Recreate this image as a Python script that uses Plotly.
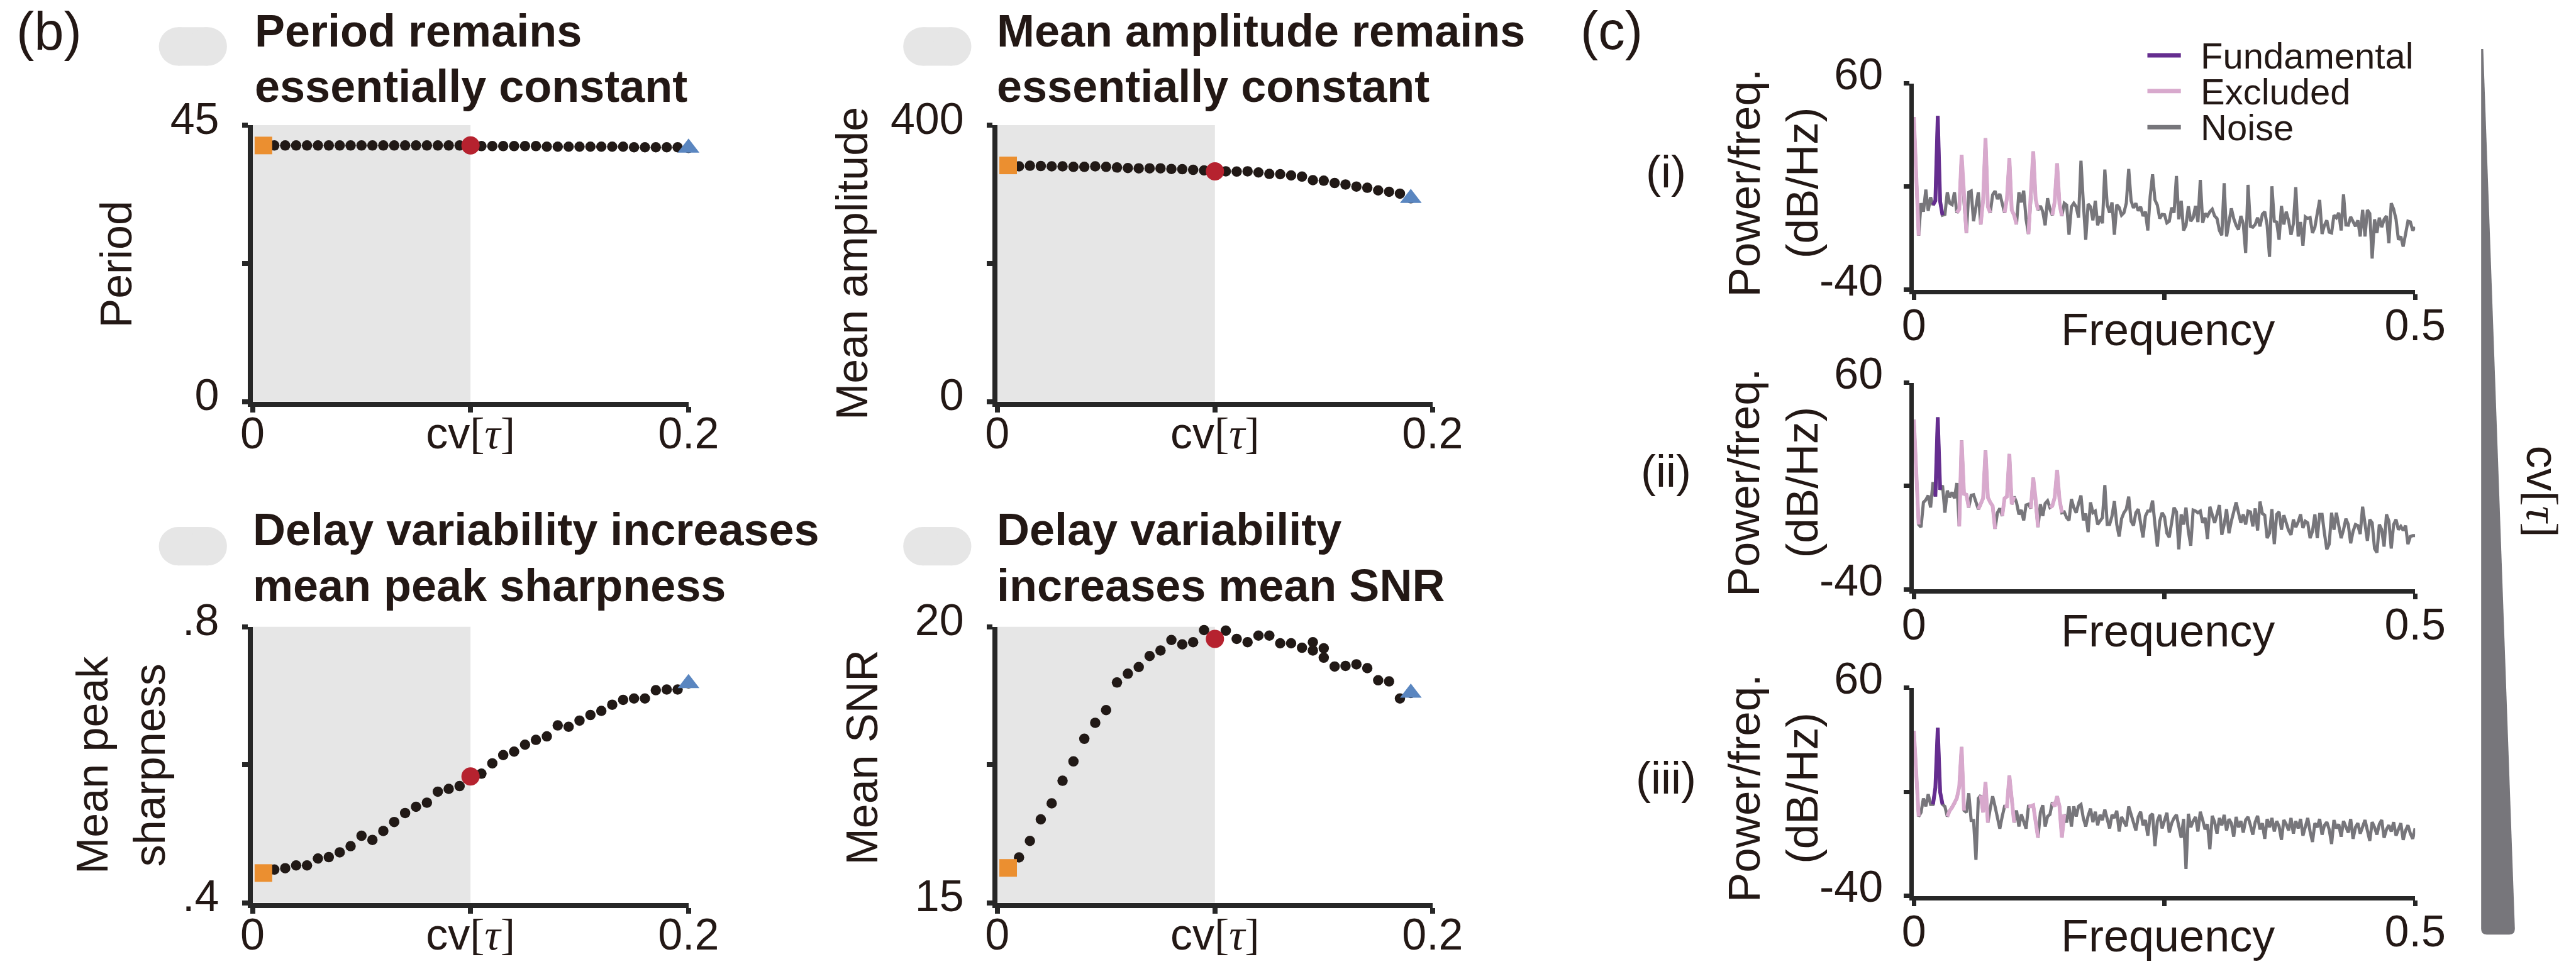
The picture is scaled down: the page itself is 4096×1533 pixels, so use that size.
import numpy as np
import plotly.graph_objects as go

W, H = 4096, 1533
SANS = "Liberation Sans, Arial, Helvetica, sans-serif"
INK = "#231815"
AXC = "#272727"
SHADE = "#E6E6E6"
C_DOT = "#211916"
C_SQ = "#EB8F30"
C_CIR = "#B6222F"
C_TRI = "#5A86C0"
C_NOISE = "#77767B"
C_EXCL = "#D8A9CD"
C_FUND = "#652D8F"

# ---------------- data: panel (b) ----------------
cv_40 = [0.005, 0.010, 0.015, 0.020, 0.025, 0.030, 0.035, 0.040, 0.045, 0.050,
         0.055, 0.060, 0.065, 0.070, 0.075, 0.080, 0.085, 0.090, 0.095, 0.100,
         0.105, 0.110, 0.115, 0.120, 0.125, 0.130, 0.135, 0.140, 0.145, 0.150,
         0.155, 0.160, 0.165, 0.170, 0.175, 0.180, 0.185, 0.190, 0.195, 0.200]
cv_38 = cv_40[:38]

period = [41.7, 41.7, 41.7, 41.7, 41.7, 41.7, 41.7, 41.7, 41.7, 41.7,
          41.7, 41.7, 41.7, 41.7, 41.7, 41.7, 41.7, 41.7, 41.7, 41.7,
          41.6, 41.6, 41.6, 41.6, 41.6, 41.6, 41.5, 41.5, 41.5, 41.5,
          41.5, 41.5, 41.5, 41.5, 41.4, 41.4, 41.4, 41.4, 41.4, 41.3]

amplitude = [341.8, 340.5, 341.3, 340.9, 340.5, 340.5, 339.7, 339.7, 340.5, 339.7,
             338.8, 338.0, 337.6, 337.6, 337.6, 336.7, 336.3, 335.4, 334.6, 333.3,
             333.3, 332.9, 333.3, 331.6, 329.5, 329.1, 327.3, 325.6, 320.5, 319.7,
             316.3, 314.2, 311.2, 309.5, 305.7, 303.6, 301.0, 294.2]

sharpness = [0.443, 0.448, 0.450, 0.454, 0.454, 0.464, 0.466, 0.473, 0.482, 0.497,
             0.491, 0.504, 0.517, 0.530, 0.539, 0.545, 0.561, 0.565, 0.569, 0.583,
             0.587, 0.602, 0.614, 0.619, 0.629, 0.636, 0.641, 0.657, 0.655, 0.664,
             0.672, 0.678, 0.687, 0.694, 0.696, 0.696, 0.708, 0.709, 0.709, 0.718]

snr_cv = [0.005, 0.010, 0.015, 0.020, 0.025, 0.030, 0.035, 0.040, 0.045, 0.050,
          0.055, 0.060, 0.065, 0.070, 0.075, 0.080, 0.085, 0.090, 0.095, 0.100,
          0.105, 0.110, 0.115, 0.120, 0.125, 0.130, 0.135, 0.140, 0.145, 0.145,
          0.150, 0.150, 0.155, 0.160, 0.165, 0.170, 0.175, 0.180, 0.185, 0.190]
snr = [15.63, 15.82, 16.12, 16.51, 16.80, 17.21, 17.56, 17.97, 18.26, 18.49,
       18.99, 19.15, 19.27, 19.47, 19.57, 19.76, 19.68, 19.72, 19.94, 19.78,
       19.93, 19.78, 19.72, 19.84, 19.84, 19.70, 19.70, 19.62, 19.72, 19.57,
       19.61, 19.44, 19.28, 19.29, 19.32, 19.25, 19.03, 19.01, 18.70, 18.80]

# ---------------- data: panel (c) spectra (dB/Hz), 0 .. 0.5 ----------------
spec_i = [43.7, 15.0, -13.8, 1.9, -2.2, 8.5, -1.8, 4.8, 1.0, 3.1,
          44.2, 2.7, -3.9, -3.5, 7.2, 1.9, 1.2, 7.2, -2.7, -1.0,
          25.4, 2.7, -12.5, 7.2, 7.8, -6.8, 0.2, 7.2, -8.4, 3.5,
          33.4, 0.2, -2.7, 6.0, 7.8, 3.9, 6.4, 1.9, -2.7, 4.3,
          23.7, -1.4, -3.9, -8.3, 7.2, 2.3, 8.0, -5.9, -13.0, 3.9,
          27.0, 3.9, -1.4, 0.6, -2.2, -8.8, 4.3, -1.0, -3.9, 2.7,
          21.2, 1.5, -4.3, 1.9, 1.0, -13.4, 0.2, 1.9, 0.2, -5.1,
          22.5, 1.9, -15.8, 1.5, 0.2, -6.4, 3.1, -8.8, -4.3, -7.8,
          18.2, 1.0, -2.7, 2.3, -13.4, 1.2, -0.2, -3.9, -2.7, 2.0,
          18.5, 3.1, -0.4, 1.9, -1.8, 0.2, -4.3, -2.2, -11.3, 5.2,
          15.9, 3.5, 1.0, -5.5, -3.5, -3.7, -7.6, -6.8, -0.2, -2.7,
          15.1, -5.9, 3.1, -11.3, -8.8, 0.4, -6.8, -5.1, 0.6, -7.2,
          13.2, -7.6, -3.1, -4.3, -2.2, -1.0, -4.3, -5.5, -11.3, -13.6,
          11.6, -14.2, -7.2, -0.6, -5.5, -8.8, -10.9, -4.3, -8.0, -22.2,
          10.8, -9.3, -9.7, -8.4, -5.1, -9.3, -3.5, -2.2, -8.8, -24.1,
          10.1, -6.8, -7.2, -15.8, 0.6, -8.4, -2.2, -6.4, -13.4, -8.0,
          9.7, -14.2, -7.2, -18.7, -4.7, -5.5, -5.1, -12.5, -9.7, -2.2,
          3.5, -13.0, -8.8, -6.4, -12.1, -12.5, -3.9, -5.1, -2.7, -11.3,
          6.2, -8.6, -8.7, -4.7, -6.8, -9.3, -6.4, -14.2, -1.3, -14.2,
          -1.4, -3.1, -24.9, -5.9, -12.5, -5.1, -9.7, -5.9, -4.3, -17.5,
          1.9, -1.0, -5.9, -15.8, -14.2, -19.1, -13.0, -6.8, -7.2, -11.3, -9.7]

spec_ii = [42.1, 14.0, -8.6, -9.9, 2.1, 3.3, 5.4, -0.4, 11.9, 4.9,
           43.3, 8.2, 10.3, -2.9, 7.8, 4.5, 7.0, 4.1, 11.5, -9.5,
           32.1, 6.2, 5.8, -0.4, 5.5, 5.8, 2.1, -1.2, 1.2, 4.1,
           27.2, 4.5, 2.1, 0.4, -10.7, -2.9, -0.8, -4.5, 4.1, 4.9,
           25.5, 1.2, 4.9, 2.1, -3.7, -1.6, -6.6, 0.8, 1.2, -0.8,
           14.0, 3.7, -9.9, 1.2, -4.5, 1.6, 2.9, -0.4, 0.4, 4.5,
           17.7, 3.7, -2.9, -2.5, -5.3, -6.6, 3.7, -0.4, -2.9, 1.6,
           5.4, -6.6, -3.3, -12.3, 2.1, -2.9, -2.1, -8.6, -7.0, -5.3,
           10.5, -8.6, -8.6, -4.5, 2.7, -8.6, -14.4, -5.8, -2.9, -1.2,
           4.9, -7.0, -9.1, -2.9, -1.2, -7.8, -14.8, -4.5, -2.1, -2.1,
           3.0, -8.6, -19.3, -7.0, -2.9, -4.9, -12.8, -14.8, -6.2, -0.4,
           -2.5, -20.6, -3.7, -8.6, -0.4, -11.9, -18.9, -1.6, -2.1, -2.9,
           -2.1, -7.8, -5.3, -15.6, 0.0, -4.5, -7.8, -3.7, 0.8, -13.6,
           -8.6, -1.2, -12.8, -7.0, -2.1, 2.1, -2.9, -7.8, -3.7, -8.6,
           -2.1, -2.5, -9.5, -0.8, -11.5, 2.5, -3.3, -4.1, -15.2, -12.8,
           -1.2, -18.1, -3.7, -2.5, -11.1, -4.1, -7.8, -11.5, -13.6, -6.2,
           -9.9, -7.4, -3.7, -10.3, -7.0, -7.8, -15.2, -11.9, -3.7, -15.2,
           -3.7, -3.7, -12.8, -20.6, -18.1, -2.9, -11.1, -2.9, -9.1, -15.2,
           -11.1, -5.8, -8.6, -17.7, -11.9, -8.6, -9.1, -13.2, 0.0, -7.8,
           -16.5, -6.2, -7.8, -20.2, -22.2, -8.6, -11.1, -19.3, -3.7, -7.0,
           -20.2, -8.6, -6.2, -11.1, -9.5, -11.5, -9.1, -18.1, -14.4, -14.0, -14.0]

spec_iii = [39.4, 18.0, -1.8, 0.2, 6.9, 3.1, 8.9, 4.0, 4.0, 12.0,
            40.8, 9.9, 4.0, 3.0, -1.8, 1.0, 2.5, 4.5, 7.0, 12.5,
            31.6, 1.1, 0.2, 9.4, -3.7, -3.7, -22.6, 6.9, 8.4, 0.2,
            14.7, -4.7, 2.1, 7.9, 3.1, -2.7, -7.6, -1.8, 3.1, 3.1,
            17.8, 6.9, -4.7, 1.1, -6.6, -0.8, -3.7, -7.6, 3.1, 3.1,
            3.6, -3.7, -11.9, 0.2, 3.6, -6.6, -1.8, -0.8, 5.0, 3.1,
            7.9, 3.1, -11.9, -0.8, -4.7, 3.1, -6.6, 3.1, -1.8, 3.1,
            4.0, -2.7, -6.6, -1.5, 2.0, -4.5, 0.5, -6.0, -1.0, -3.5,
            1.5, -3.0, -7.5, -1.0, -2.5, 1.0, -9.0, -2.0, -4.0, -6.5,
            3.0, -1.0, -5.0, -8.5, -2.0, 0.5, -6.0, -3.5, -11.0, -1.5,
            -0.5, -16.0, -4.0, -1.0, -7.5, -3.0, 0.0, -9.5, -5.0, -2.5,
            -1.0, -6.5, -12.0, -3.0, -27.0, -0.5, -7.0, -4.0, -2.0, -9.0,
            0.5, -3.5, -8.0, -5.5, -17.5, -1.5, -4.5, -10.0, -2.5, -6.0,
            -1.0, -8.5, -3.0, -5.0, -11.5, -2.0, -7.0, -4.0, -9.5, -3.5,
            -2.0, -6.0, -10.5, -4.5, -1.5, -8.0, -5.0, -12.5, -3.0, -7.0,
            -2.5, -9.0, -4.0, -6.5, -13.0, -3.5, -5.5, -8.5, -2.5, -10.0,
            -4.0, -7.5, -3.0, -11.0, -6.0, -2.5, -9.0, -14.0, -5.0, -7.0,
            -3.0, -10.5, -6.0, -4.5, -8.0, -15.0, -3.5, -7.5, -5.5, -11.5,
            -4.0, -6.5, -9.5, -3.0, -12.5, -7.0, -5.0, -10.0, -6.5, -3.5,
            -8.5, -13.5, -4.5, -7.0, -10.5, -5.5, -3.5, -12.0, -8.0, -6.0,
            -9.0, -4.5, -11.0, -7.5, -5.0, -13.0, -8.5, -6.0, -10.0, -12.5, -7.5]

# bin index ranges drawn as "Fundamental" / "Excluded"
fund_i = [(8, 12)]
excl_i = [(0, 2), (18, 22), (28, 32), (38, 43), (48, 52), (58, 62)]
fund_ii = [(9, 11)]
excl_ii = [(0, 2), (19, 23), (27, 34), (37, 42), (49, 52), (57, 62)]
fund_iii = [(8, 12)]
excl_iii = [(0, 2), (14, 21), (28, 31), (38, 42), (48, 52), (58, 63)]

legend_names = ["Fundamental", "Excluded", "Noise"]

for s in (spec_i, spec_ii, spec_iii):
    assert len(s) == 211, len(s)


def px(x):
    return x / W


def py(y):
    return 1 - y / H


fig = go.Figure()
shapes = []
annotations = []

CVTAU = 'cv<span style="font-family:Liberation Serif, Times New Roman, serif">[<i>τ</i>]</span>'


def axis_base(lw):
    return dict(showline=True, linecolor=AXC, linewidth=lw, ticks="outside",
                ticklen=9, tickwidth=lw, tickcolor=AXC, showgrid=False,
                zeroline=False, fixedrange=True, automargin=False,
                title=dict(text=""),
                tickfont=dict(family=SANS, size=70, color=INK))


layout_axes = {}

# ---------- panel (b) ----------
LW_B = 8
b_panels = [
    (1, cv_40, period, [0, 45], ["0", "", "45"], (397.5, 1094.8), (199.1, 642.7)),
    (2, cv_38, amplitude, [0, 400], ["0", "", "400"], (1581.7, 2277.9), (199.1, 642.7)),
    (3, cv_40, sharpness, [0.4, 0.8], [".4", "", ".8"], (397.5, 1094.8), (996.7, 1439.5)),
    (4, snr_cv, snr, [15, 20], ["15", "", "20"], (1581.7, 2277.9), (996.7, 1439.5)),
]

for n, xs, ys, yr, ytt, (xa, xb), (yt, yb) in b_panels:
    sfx = "" if n == 1 else str(n)
    xs_ref, ys_ref = "x" + sfx, "y" + sfx
    xax = axis_base(LW_B)
    xax.update(domain=[px(xa + LW_B / 2), px(xb)], range=[0, 0.2], anchor=ys_ref,
               tickvals=[0, 0.1, 0.2], ticktext=["0", CVTAU, "0.2"],
               ticklabelstandoff=-27)
    yax = axis_base(LW_B)
    yax.update(domain=[py(yb - LW_B / 2), py(yt)], range=yr, anchor=xs_ref,
               tickvals=[yr[0], (yr[0] + yr[1]) / 2, yr[1]], ticktext=ytt,
               ticklabelstandoff=22, ticklabelshift=-11)
    layout_axes["xaxis" + sfx] = xax
    layout_axes["yaxis" + sfx] = yax
    shapes.append(dict(type="rect", xref=xs_ref, yref=ys_ref + " domain",
                       x0=0, x1=0.1, y0=0, y1=1, fillcolor=SHADE,
                       line=dict(width=0), layer="below"))
    fig.add_trace(go.Scatter(x=xs, y=ys, mode="markers", xaxis=xs_ref, yaxis=ys_ref,
                             marker=dict(size=16.5, color=C_DOT, line=dict(width=0)),
                             cliponaxis=False, hoverinfo="skip"))
    mid = int(np.argmin(np.abs(np.array(xs) - 0.1)))
    fig.add_trace(go.Scatter(x=[xs[0]], y=[ys[0]], mode="markers", xaxis=xs_ref, yaxis=ys_ref,
                             marker=dict(size=28, color=C_SQ, symbol="square", line=dict(width=0)),
                             cliponaxis=False))
    fig.add_trace(go.Scatter(x=[xs[mid]], y=[ys[mid]], mode="markers", xaxis=xs_ref, yaxis=ys_ref,
                             marker=dict(size=29, color=C_CIR, symbol="circle", line=dict(width=0)),
                             cliponaxis=False))
    fig.add_trace(go.Scatter(x=[xs[-1]], y=[ys[-1]], mode="markers", xaxis=xs_ref, yaxis=ys_ref,
                             marker=dict(size=30, color=C_TRI, symbol="triangle-up", line=dict(width=0)),
                             cliponaxis=False))

# ---------- panel (c) ----------
LW_C = 7
c_panels = [
    (5, spec_i, fund_i, excl_i, (132.5, 464.2), "square", C_SQ, 71.0, 34),
    (6, spec_ii, fund_ii, excl_ii, (608.6, 940.8), "circle", C_CIR, 69.0, 35),
    (7, spec_iii, fund_iii, excl_iii, (1093.9, 1428.4), "triangle-up", C_TRI, 66.3, 36),
]


def masked(vals, ranges):
    out = [None] * len(vals)
    for a, b in ranges:
        for k in range(a, b + 1):
            out[k] = vals[k]
    return out


for n, vals, fr, er, (yt, yb), sym, col, my, ms in c_panels:
    sfx = str(n)
    xs_ref, ys_ref = "x" + sfx, "y" + sfx
    freq = np.linspace(0, 0.5, len(vals))
    xax = axis_base(LW_C)
    xax.update(domain=[px(3039.7 + LW_C / 2), px(3840.2)], range=[0, 0.5], anchor=ys_ref,
               tickvals=[0, 0.25, 0.5], ticktext=["0", "", "0.5"], ticklabelstandoff=-20)
    yax = axis_base(LW_C)
    yax.update(domain=[py(yb - LW_C / 2), py(yt)], range=[-40, 60], anchor=xs_ref,
               tickvals=[-40, 10, 60], ticktext=["-40", "", "60"],
               ticklabelstandoff=19, ticklabelshift=-15)
    layout_axes["xaxis" + sfx] = xax
    layout_axes["yaxis" + sfx] = yax
    fig.add_trace(go.Scatter(x=freq, y=vals, mode="lines", xaxis=xs_ref, yaxis=ys_ref,
                             line=dict(color=C_NOISE, width=5), hoverinfo="skip"))
    fig.add_trace(go.Scatter(x=freq, y=masked(vals, er), mode="lines", xaxis=xs_ref, yaxis=ys_ref,
                             line=dict(color=C_EXCL, width=6), connectgaps=False, hoverinfo="skip"))
    fig.add_trace(go.Scatter(x=freq, y=masked(vals, fr), mode="lines", xaxis=xs_ref, yaxis=ys_ref,
                             line=dict(color=C_FUND, width=6), connectgaps=False, hoverinfo="skip"))
    fig.add_trace(go.Scatter(x=[0], y=[my], mode="markers", xaxis=xs_ref, yaxis=ys_ref,
                             marker=dict(size=ms, color=col, symbol=sym, line=dict(width=0)),
                             cliponaxis=False))


def ann(text, x, y, size, xanchor="center", yanchor="middle", angle=0, bold=False,
        color=INK, height=None):
    if bold:
        text = "<b>" + text + "</b>"
    d = dict(text=text, x=px(x), y=py(y), xref="paper", yref="paper",
             xanchor=xanchor, yanchor=yanchor, textangle=angle,
             showarrow=False, font=dict(family=SANS, size=size, color=color))
    if height is not None:
        d["height"] = height
    annotations.append(d)


# panel letters
ann("(b)", 78.3, 49.2, 85)
ann("(c)", 2562, 48.4, 85)

# titles with pills
titles = [
    ("Period remains", "essentially constant", 402.7, 48.7, 137.4, 252.6, 43.3),
    ("Mean amplitude remains", "essentially constant", 1582.8, 48.7, 137.4, 1436.2, 43.3),
    ("Delay variability increases", "mean peak sharpness", 400.0, 842.1, 930.9, 252.6, 838.1),
    ("Delay variability", "increases mean SNR", 1582.8, 842.1, 930.9, 1436.2, 838.1),
]
PILL_W, PILL_H = 108.3, 61.2
for l1, l2, tx, y1, y2, plx, ply in titles:
    ann(l1, tx, y1, 72, xanchor="left", bold=True)
    ann(l2, tx, y2, 72, xanchor="left", bold=True)
    r = PILL_H / 2
    shapes.append(dict(type="rect", xref="paper", yref="paper",
                       x0=px(plx + r), x1=px(plx + PILL_W - r), y0=py(ply + PILL_H), y1=py(ply),
                       fillcolor=SHADE, line=dict(width=0), layer="below"))
    for cx in (plx, plx + PILL_W - 2 * r):
        shapes.append(dict(type="circle", xref="paper", yref="paper",
                           x0=px(cx), x1=px(cx + 2 * r), y0=py(ply + PILL_H), y1=py(ply),
                           fillcolor=SHADE, line=dict(width=0), layer="below"))

# y-axis titles (b)
ann("Period", 184.5, 421, 70, angle=-90)
ann("Mean amplitude", 1355, 419, 70, angle=-90)
ann("Mean peak<br>sharpness", 192, 1217, 70, angle=-90)
ann("Mean SNR", 1370.6, 1205, 70, angle=-90)

# panel (c) labels
for lab, yc, fy, ty in [("(i)", 272.7, 524, 291.4), ("(ii)", 748.7, 1003, 767.7),
                        ("(iii)", 1236.7, 1488, 1254)]:
    ann(lab, 2649, yc, 72)
    ann("Frequency", 3447, fy, 72)
    ann("Power/freq.<br>(dB/Hz)", 2819, ty, 71, angle=-90)

# legend
for name, col, ly in zip(legend_names, [C_FUND, C_EXCL, C_NOISE], [88, 144.7, 202.3]):
    shapes.append(dict(type="line", xref="paper", yref="paper",
                       x0=px(3414.5), x1=px(3467.7), y0=py(ly), y1=py(ly),
                       line=dict(color=col, width=7)))
    ann(name, 3497, ly, 58, xanchor="left", height=54)

# cv wedge
pts = [(3945.2, 77.9), (3948.5, 77.9), (3998.8, 1477.0), (3998.8, 1486.2), (3990.0, 1486.2),
       (3954.0, 1486.2), (3945.2, 1486.2), (3945.2, 1477.0)]
path = ("M {:.5f},{:.5f} L {:.5f},{:.5f} L {:.5f},{:.5f} Q {:.5f},{:.5f} {:.5f},{:.5f} "
        "L {:.5f},{:.5f} Q {:.5f},{:.5f} {:.5f},{:.5f} Z").format(
    px(pts[0][0]), py(pts[0][1]), px(pts[1][0]), py(pts[1][1]), px(pts[2][0]), py(pts[2][1]),
    px(pts[3][0]), py(pts[3][1]), px(pts[4][0]), py(pts[4][1]),
    px(pts[5][0]), py(pts[5][1]), px(pts[6][0]), py(pts[6][1]), px(pts[7][0]), py(pts[7][1]))
shapes.append(dict(type="path", xref="paper", yref="paper", path=path,
                   fillcolor=C_NOISE, line=dict(width=0)))
annotations.append(dict(text=CVTAU, x=px(4042), y=py(781.7), xref="paper", yref="paper",
                        xanchor="center", yanchor="middle", textangle=90, showarrow=False,
                        font=dict(family=SANS, size=72, color=INK)))

fig.update_layout(width=W, height=H, autosize=False,
                  margin=dict(l=0, r=0, t=0, b=0, pad=0, autoexpand=False),
                  paper_bgcolor="white", plot_bgcolor="rgba(0,0,0,0)",
                  showlegend=False, shapes=shapes, annotations=annotations,
                  **layout_axes)

fig.write_html("out.html")
